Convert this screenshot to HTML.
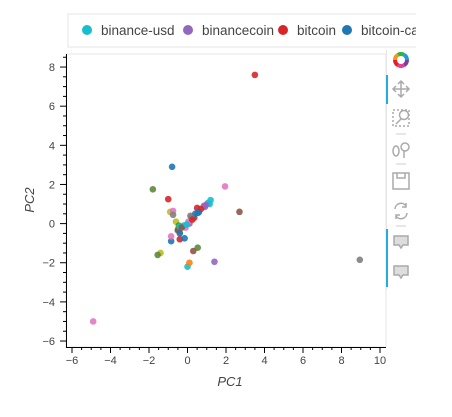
<!DOCTYPE html>
<html><head><meta charset="utf-8"><style>
body{margin:0;background:#fff;width:452px;height:412px;overflow:hidden;font-family:"Liberation Sans",sans-serif}
</style></head><body>
<svg width="452" height="412" id="chart">
<defs><clipPath id="lc"><rect x="0" y="0" width="416" height="60"/></clipPath></defs>
<rect x="0" y="0" width="452" height="412" fill="#fff"/>
<g id="legend" clip-path="url(#lc)">
<rect x="68" y="14" width="400" height="33" fill="#fff" stroke="#e5e5e5"/>
</g>
<rect x="66" y="54" width="320" height="293" fill="none" stroke="#e5e5e5"/>
<g id="axes"></g>
<g id="points"></g>
<text x="230" y="386" text-anchor="middle" font-size="13" font-style="italic" fill="#444">PC1</text>
<text transform="translate(34,200) rotate(-90)" text-anchor="middle" font-size="13" font-style="italic" fill="#444">PC2</text>
<g fill="none" stroke="#aaa" stroke-width="1.5">
<line x1="386.5" y1="50" x2="386.5" y2="290" stroke="#e5e5e5" stroke-width="1"/>
<rect x="386" y="75" width="2" height="29" fill="#26aae1" stroke="none"/>
<rect x="386" y="229" width="2" height="58" fill="#26aae1" stroke="none"/>
<g stroke-width="4">
<path d="M395 60a6 6 0 0 1 3-5.2" stroke="#f7941d"/>
<path d="M398 54.8a6 6 0 0 1 6 0" stroke="#2fb34a"/>
<path d="M404 54.8a6 6 0 0 1 3 5.2" stroke="#1c9ad6"/>
<path d="M407 60a6 6 0 0 1-3 5.2" stroke="#7b3f98"/>
<path d="M404 65.2a6 6 0 0 1-6 0" stroke="#e0409a"/>
<path d="M398 65.2a6 6 0 0 1-3-5.2" stroke="#ed1c24"/>
</g>
<g><path d="M393 89h16M401 81v16M396 86l-3 3 3 3M406 86l3 3-3 3M398 84l3-3 3 3M398 94l3 3 3-3"/></g>
<g><rect x="393" y="110" width="16" height="16" stroke-dasharray="2 2"/><circle cx="404" cy="115" r="4.5"/><path d="M401 119l-5 5"/></g>
<line x1="396" y1="134" x2="406" y2="134" stroke="#ccc" stroke-width="1"/>
<g><ellipse cx="396" cy="151" rx="3" ry="5"/><circle cx="405" cy="147" r="4"/><path d="M404 151v7"/></g>
<line x1="396" y1="164" x2="406" y2="164" stroke="#ccc" stroke-width="1"/>
<g><rect x="393" y="173" width="16" height="16"/><path d="M397 173v5h8v-5"/></g>
<g><path d="M395 209a6 6 0 0 1 11-3M407 213a6 6 0 0 1-11 3M406 203v4h-4M396 219v-4h4"/></g>
<line x1="396" y1="226" x2="406" y2="226" stroke="#ccc" stroke-width="1"/>
<g><path d="M394 236h14v9h-5l-2 3-2-3h-5z" fill="#ddd"/></g>
<g><path d="M394 266h14v9h-5l-2 3-2-3h-5z" fill="#ddd"/></g>
</g>
</svg>
<script>
const seriesNames=["binance-usd","binancecoin","bitcoin","bitcoin-cash"];
const palette=["#1f77b4","#ff7f0e","#2ca02c","#d62728","#9467bd","#8c564b","#e377c2","#7f7f7f","#bcbd22","#17becf","#5c8a3c"];
const legendColors=["#17becf","#9467bd","#d62728","#1f77b4"];
const xTicks=[-6,-4,-2,0,2,4,6,8,10];
const yTicks=[-6,-4,-2,0,2,4,6,8];
const px=[3.5,8.95,-4.9,-0.8,-1.8,1.95,-1.0,2.7,1.2,1.4,0,0.1,-1.4,-1.55,0.53,0.3,-0.85,-0.85,-0.6,-0.9,-0.75,-0.75,0.15,0.5,0.6,0.9,-0.1,-0.4,-0.15,-0.4,-0.5,-0.5,-0.4,0.1,0.35,1.15,-0.45,-0.4,1.05,0.85,0.7,0.4,0.2,0.05,-0.2,-0.3,0.25,0.55,0.95,-0.05];
const py=[7.6,-1.85,-5.0,2.9,1.75,1.9,1.25,0.6,1.2,-1.95,-2.2,-2.0,-1.5,-1.6,-1.23,-1.4,-0.9,-0.65,0.1,0.6,0.65,0.45,0.4,0.8,0.6,0.85,-0.2,-0.8,-0.75,-0.45,-0.3,-0.35,-0.5,0.0,0.3,1.0,-0.1,-0.15,1.05,0.9,0.75,0.5,0.3,0.1,-0.1,-0.2,0.2,0.55,0.95,-0.05];
const pc=[3,7,6,0,10,6,3,5,9,4,9,1,8,10,10,5,0,6,8,8,6,7,7,3,0,4,6,3,0,8,7,5,0,4,3,9,2,9,9,4,3,0,7,6,9,5,3,0,4,9];
const NS="http://www.w3.org/2000/svg";
const X=v=>187.5+v*19.25, Y=v=>223.6-v*19.57;
const axes=document.getElementById('axes');
function el(t,a,p){const e=document.createElementNS(NS,t);for(const k in a)e.setAttribute(k,a[k]);p.appendChild(e);return e;}
el('line',{x1:66,y1:347.5,x2:386,y2:347.5,stroke:'#000','stroke-width':1},axes);
el('line',{x1:66.5,y1:54,x2:66.5,y2:347,stroke:'#000','stroke-width':1},axes);
xTicks.forEach(t=>{const x=X(t);el('line',{x1:x,y1:347,x2:x,y2:353,stroke:'#000'},axes);
 const tx=el('text',{x:x,y:364,'text-anchor':'middle','font-size':11,fill:'#444'},axes);tx.textContent=(t<0?'\u2212'+(-t):t);
 
 
 [0.5,1,1.5].forEach(m=>{const mx=X(t+m);if(t+m<=10.2)el('line',{x1:mx,y1:347,x2:mx,y2:350,stroke:'#000'},axes);});});
yTicks.forEach(t=>{const y=Y(t);el('line',{x1:60,y1:y,x2:66,y2:y,stroke:'#000'},axes);
 const tx=el('text',{x:55,y:y+4,'text-anchor':'end','font-size':11,fill:'#444'},axes);tx.textContent=(t<0?'\u2212'+(-t):t);
 
 
 [0.5,1,1.5].forEach(m=>{const my=Y(t+m);if(t+m<=8.8)el('line',{x1:63,y1:my,x2:66,y2:my,stroke:'#000'},axes);});});
const g=document.getElementById('points');
px.forEach((v,i)=>{const c=el('circle',{cx:X(v),cy:Y(py[i]),r:3.3,fill:palette[pc[i]],'fill-opacity':0.9},g);
 
 });
const lg=document.getElementById('legend');
const lx=[87,188,283,347];
seriesNames.forEach((n,i)=>{const c=el('circle',{cx:lx[i],cy:30,r:5,fill:legendColors[i]},lg);
 
 
 const t=el('text',{x:lx[i]+14,y:35,'font-size':13.5,fill:'#444'},lg);t.textContent=n;
 
 });
</script>
</body></html>
